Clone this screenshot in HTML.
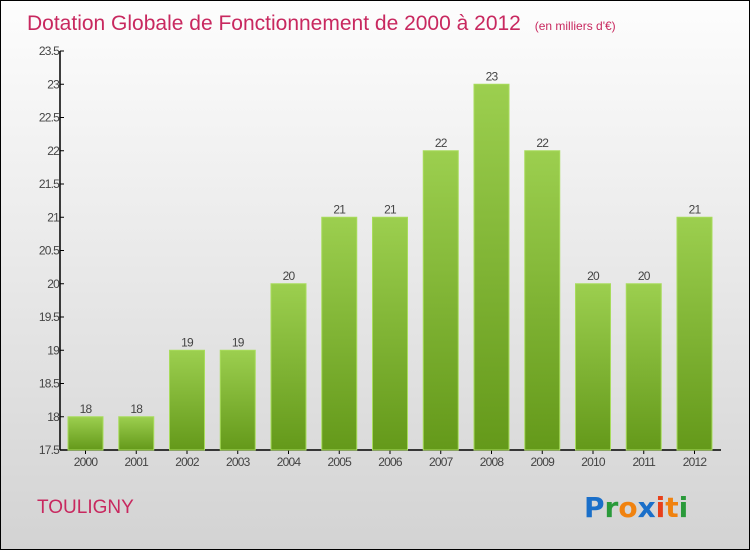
<!DOCTYPE html>
<html><head><meta charset="utf-8"><style>
html,body{margin:0;padding:0}
body{width:750px;height:550px;overflow:hidden;font-family:"Liberation Sans",sans-serif}
#wrap{position:relative;width:748px;height:548px;border:1px solid #000;background:linear-gradient(#fdfdfd,#d3d3d3)}
</style></head><body>
<div id="wrap">
<svg id="chart" width="748" height="548" xmlns="http://www.w3.org/2000/svg">
<defs>
<linearGradient id="bg" x1="0" y1="0" x2="0" y2="1"><stop offset="0" stop-color="#9ccf4f"/><stop offset="1" stop-color="#64991a"/></linearGradient>
</defs>
<text x="26" y="29" font-size="21" fill="#c8285f">Dotation Globale de Fonctionnement de 2000 à 2012 <tspan font-size="12" dx="8">(en milliers d'€)</tspan></text>
<text x="36" y="512" font-size="19" fill="#c8285f">TOULIGNY</text>
<g font-size="28" font-weight="bold" font-family="'DejaVu Sans',sans-serif">
<text x="583" y="516"><tspan fill="#1a6fc9">P</tspan><tspan fill="#2a9a3a">r</tspan><tspan fill="#f0820f">o</tspan><tspan fill="#1a6fc9">x</tspan><tspan fill="#e8401a">i</tspan><tspan fill="#f0820f">t</tspan><tspan fill="#2a9a3a">i</tspan></text>
</g>
<g id="axes"></g>
<g id="bars"></g>
</svg>
</div>
<script>
const categories=["2000","2001","2002","2003","2004","2005","2006","2007","2008","2009","2010","2011","2012"];
const values=[18,18,19,19,20,21,21,22,23,22,20,20,21];
const valueLabels=["18","18","19","19","20","21","21","22","23","22","20","20","21"];
const yTicks=[17.5,18,18.5,19,19.5,20,20.5,21,21.5,22,22.5,23,23.5];
const yTickLabels=["17.5","18","18.5","19","19.5","20","20.5","21","21.5","22","22.5","23","23.5"];
const NS="http://www.w3.org/2000/svg";
const yMin=17.5,yMax=23.5,y0=449,y1=50,axX=59;
function y(v){return y0-(v-yMin)/(yMax-yMin)*(y0-y1);}
function xc(i){return 84.5+i*50.75;}
function mk(t,a,p){const e=document.createElementNS(NS,t);for(const k in a)e.setAttribute(k,a[k]);p.appendChild(e);return e;}
const ax=document.getElementById('axes'),bars=document.getElementById('bars');
let l=mk('line',{x1:axX,y1:y1,x2:axX,y2:y0,stroke:'#000','stroke-width':1.5},ax);


l=mk('line',{x1:axX,y1:y0,x2:720,y2:y0,stroke:'#000','stroke-width':1.5},ax);


yTicks.forEach((v,i)=>{
 mk('line',{x1:axX,y1:y(v),x2:axX+4,y2:y(v),stroke:'#000'},ax);
 const t=mk('text',{x:axX-1,y:y(v)+4,'font-size':12,fill:'#444','text-anchor':'end','letter-spacing':'-0.8'},ax);
 t.textContent=yTickLabels[i];
 
 
});
categories.forEach((c,i)=>{
 const cx=xc(i),w=35;
 const r=mk('rect',{x:cx-w/2,y:y(values[i]),width:w,height:y0-y(values[i]),fill:'url(#bg)',stroke:'#a8dc5c','stroke-width':1},bars);
 
 
 mk('line',{x1:cx,y1:y0,x2:cx,y2:y0+4,stroke:'#000'},ax);
 const t=mk('text',{x:cx,y:y0+16,'font-size':12,fill:'#444','text-anchor':'middle','letter-spacing':'-0.8'},ax);
 t.textContent=c;
 
 
 const v=mk('text',{x:cx,y:y(values[i])-4,'font-size':12,fill:'#444','text-anchor':'middle','letter-spacing':'-0.8'},bars);
 v.textContent=valueLabels[i];
 
 
});
</script>
</body></html>
